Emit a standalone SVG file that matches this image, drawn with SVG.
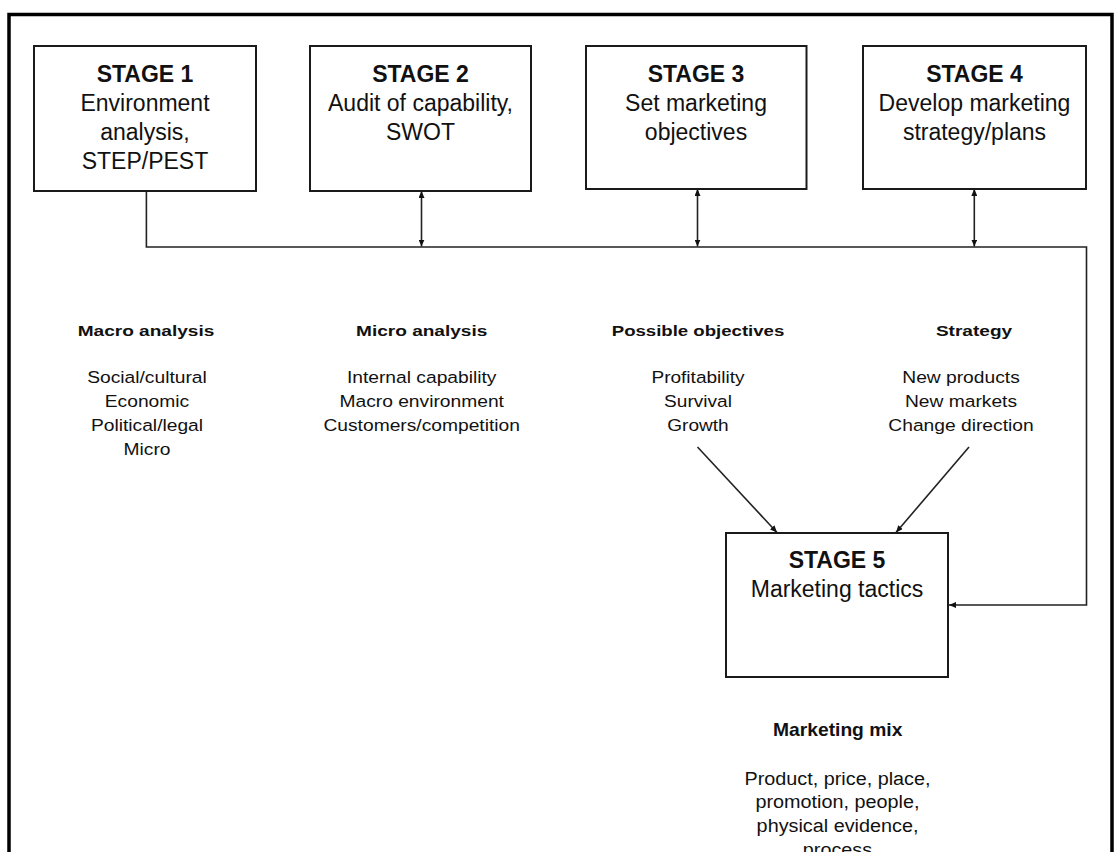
<svg xmlns="http://www.w3.org/2000/svg" width="1120" height="852" viewBox="0 0 1120 852">
  <defs>
    <style>
      .box { fill: #fff; stroke: #1a1a1a; stroke-width: 2; }
      .frame { fill: none; stroke: #000; stroke-width: 3.5; }
      .wire { fill: none; stroke: #222; stroke-width: 1.6; }
      .st { font-family: "Liberation Sans", Arial, sans-serif; font-size: 23px; font-weight: bold; fill: #111; text-anchor: middle; }
      .sb { font-family: "Liberation Sans", Arial, sans-serif; font-size: 23px; fill: #111; text-anchor: middle; }
      .lh { font-family: "Liberation Sans", Arial, sans-serif; font-size: 15.5px; font-weight: bold; fill: #111; text-anchor: middle; }
      .li { font-family: "Liberation Sans", Arial, sans-serif; font-size: 16.3px; fill: #111; text-anchor: middle; }
      .mh { font-family: "Liberation Sans", Arial, sans-serif; font-size: 17.5px; font-weight: bold; fill: #111; text-anchor: middle; }
      .mi { font-family: "Liberation Sans", Arial, sans-serif; font-size: 18.6px; fill: #111; text-anchor: middle; }
    </style>
    <marker id="head" viewBox="0 0 7 6" refX="7" refY="3" markerWidth="7" markerHeight="6" markerUnits="userSpaceOnUse" orient="auto-start-reverse">
      <path d="M0,0 L7,3 L0,6 z" fill="#111"/>
    </marker>
  </defs>

  <rect width="1120" height="852" fill="#fff"/>

  <!-- outer frame, open at the bottom -->
  <path class="frame" d="M9,852 V14.5 H1112 V852"/>

  <!-- connectors -->
  <g id="connectors">
    <path class="wire" d="M146.4,191 V247 H1086.5 V605 H949" marker-end="url(#head)"/>
    <line class="wire" x1="421.5" y1="191" x2="421.5" y2="246.5" marker-start="url(#head)" marker-end="url(#head)"/>
    <line class="wire" x1="697.5" y1="189" x2="697.5" y2="246.5" marker-start="url(#head)" marker-end="url(#head)"/>
    <line class="wire" x1="974.3" y1="189" x2="974.3" y2="246.5" marker-start="url(#head)" marker-end="url(#head)"/>
    <line class="wire" x1="697.5" y1="447" x2="777" y2="532.5" marker-end="url(#head)"/>
    <line class="wire" x1="969" y1="447" x2="896" y2="532.5" marker-end="url(#head)"/>
  </g>

  <!-- stage boxes -->
  <g id="stage1">
    <rect class="box" x="34" y="46" width="222" height="145"/>
    <text class="st" x="145" y="82">STAGE 1</text>
    <text class="sb"><tspan x="145" y="111">Environment</tspan><tspan x="145" y="140">analysis,</tspan><tspan x="145" y="169">STEP/PEST</tspan></text>
  </g>
  <g id="stage2">
    <rect class="box" x="310" y="46" width="221" height="145"/>
    <text class="st" x="420.5" y="82">STAGE 2</text>
    <text class="sb"><tspan x="420.5" y="111">Audit of capability,</tspan><tspan x="420.5" y="140">SWOT</tspan></text>
  </g>
  <g id="stage3">
    <rect class="box" x="586" y="46" width="220.5" height="143"/>
    <text class="st" x="696" y="82">STAGE 3</text>
    <text class="sb"><tspan x="696" y="111">Set marketing</tspan><tspan x="696" y="140">objectives</tspan></text>
  </g>
  <g id="stage4">
    <rect class="box" x="863" y="46" width="223" height="143"/>
    <text class="st" x="974.5" y="82">STAGE 4</text>
    <text class="sb"><tspan x="974.5" y="111">Develop marketing</tspan><tspan x="974.5" y="140">strategy/plans</tspan></text>
  </g>
  <g id="stage5">
    <rect class="box" x="726" y="533" width="222" height="144"/>
    <text class="st" x="837" y="568">STAGE 5</text>
    <text class="sb" x="837" y="597">Marketing tactics</text>
  </g>

  <!-- column notes (printed slightly wide) -->
  <g id="macro-analysis">
    <text class="lh" transform="translate(146,0) scale(1.23,1)" x="0" y="336">Macro analysis</text>
    <text class="li" transform="translate(147,0) scale(1.18,1)"><tspan x="0" y="383.5">Social/cultural</tspan><tspan x="0" y="407.5">Economic</tspan><tspan x="0" y="431.5">Political/legal</tspan><tspan x="0" y="455.5">Micro</tspan></text>
  </g>
  <g id="micro-analysis">
    <text class="lh" transform="translate(421.7,0) scale(1.23,1)" x="0" y="336">Micro analysis</text>
    <text class="li" transform="translate(421.7,0) scale(1.18,1)"><tspan x="0" y="383.5">Internal capability</tspan><tspan x="0" y="407.5">Macro environment</tspan><tspan x="0" y="431.5">Customers/competition</tspan></text>
  </g>
  <g id="possible-objectives">
    <text class="lh" transform="translate(698,0) scale(1.2,1)" x="0" y="336">Possible objectives</text>
    <text class="li" transform="translate(698,0) scale(1.17,1)"><tspan x="0" y="383.5">Profitability</tspan><tspan x="0" y="407.5">Survival</tspan><tspan x="0" y="431.5">Growth</tspan></text>
  </g>
  <g id="strategy">
    <text class="lh" transform="translate(974,0) scale(1.23,1)" x="0" y="336">Strategy</text>
    <text class="li" transform="translate(961,0) scale(1.18,1)"><tspan x="0" y="383.5">New products</tspan><tspan x="0" y="407.5">New markets</tspan><tspan x="0" y="431.5">Change direction</tspan></text>
  </g>
  <g id="marketing-mix">
    <text class="mh" transform="translate(837.7,0) scale(1.1,1)" x="0" y="736">Marketing mix</text>
    <text class="mi" transform="translate(837.5,0) scale(1.065,1)"><tspan x="0" y="785">Product, price, place,</tspan><tspan x="0" y="808.5">promotion, people,</tspan><tspan x="0" y="832">physical evidence,</tspan><tspan x="0" y="856">process</tspan></text>
  </g>
</svg>
